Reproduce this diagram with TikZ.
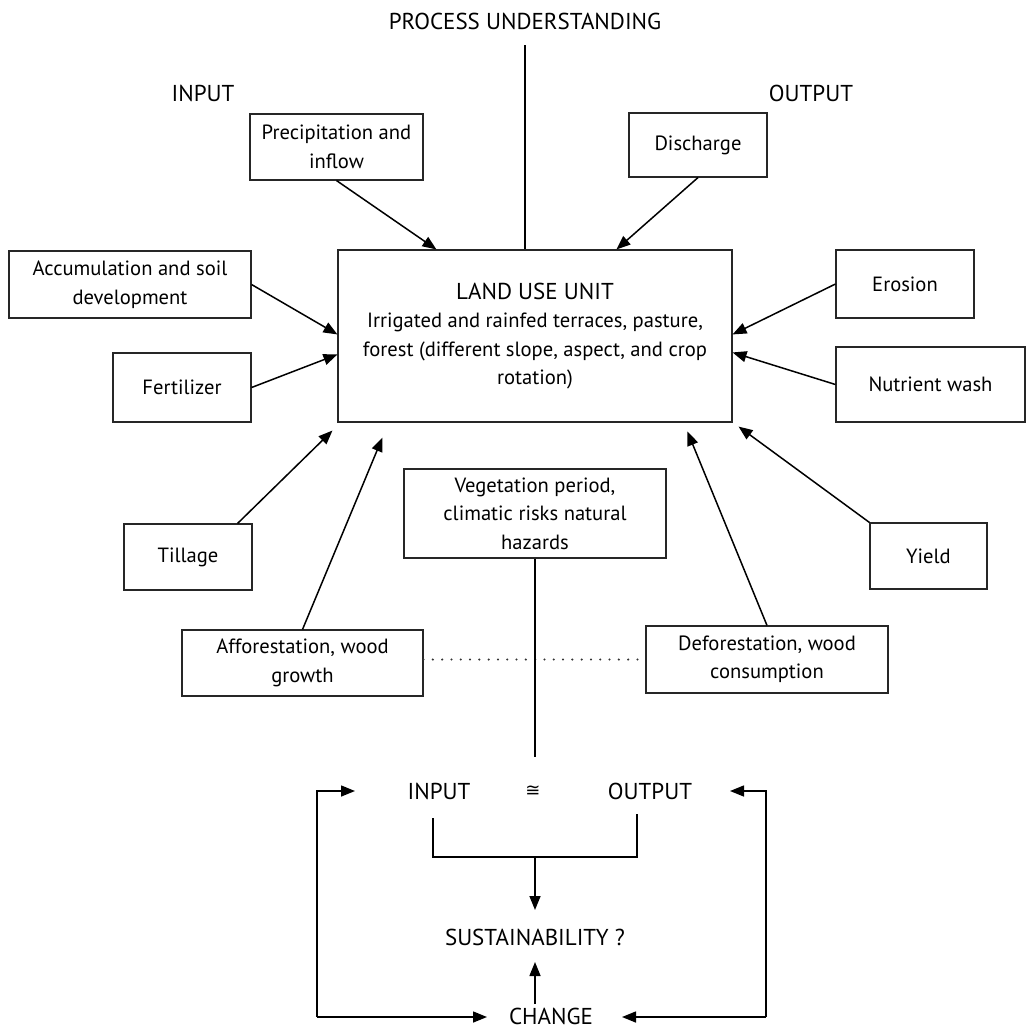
\documentclass[tikz,border=0pt]{standalone}
\usepackage{fontspec}
\setmainfont{PT Sans}
\newfontfamily\symfnt{DejaVu Sans}
\usetikzlibrary{arrows.meta,calc}
\tikzset{
  box/.style={draw=black!85,line width=1.1pt,inner sep=0pt,align=center,font=\fontsize{20.6}{28.5}\selectfont},
  lbl/.style={inner sep=0pt,font=\fontsize{23}{28.5}\selectfont},
  arr/.style={line width=1.5pt,-{Triangle[length=14pt,width=11pt]}},
  ln/.style={line width=1.3pt},
}
\begin{document}
\begin{tikzpicture}[x=1pt,y=-1pt]
\useasboundingbox[fill=white] (0,0) rectangle (1029,1029);
% labels
\node[lbl] (title) at (525,21) {PROCESS UNDERSTANDING};
\node[lbl] (inTop) at (203,93) {INPUT};
\node[lbl] (outTop) at (811,93) {OUTPUT};
% boxes
\node[box,minimum width=173pt,minimum height=66pt] (prec) at (336.5,147) {Precipitation and\\inflow};
\node[box,minimum width=138pt,minimum height=64pt] (disch) at (698,145) {Discharge};
\node[box,minimum width=394pt,minimum height=172pt] (land) at (535,336) {{\fontsize{23}{28.5}\selectfont LAND USE UNIT}\\Irrigated and rainfed terraces, pasture,\\forest (different slope, aspect, and crop\\rotation)};
\node[box,minimum width=242pt,minimum height=67pt] (accum) at (130,284.5) {Accumulation and soil\\development};
\node[box,minimum width=138pt,minimum height=69pt] (fert) at (182,387.5) {Fertilizer};
\node[box,minimum width=128pt,minimum height=66pt] (till) at (188,557) {Tillage};
\node[box,minimum width=241pt,minimum height=66pt] (affor) at (302.5,663) {Afforestation, wood\\growth};
\node[box,minimum width=262pt,minimum height=89pt] (veg) at (535,513.5) {Vegetation period,\\climatic risks natural\\hazards};
\node[box,minimum width=242pt,minimum height=67pt] (defor) at (767,659.5) {Deforestation, wood\\consumption};
\node[box,minimum width=117pt,minimum height=66pt] (yield) at (928.5,556) {Yield};
\node[box,minimum width=138pt,minimum height=68pt] (eros) at (905,284) {Erosion};
\node[box,minimum width=189pt,minimum height=75pt] (nutr) at (930.5,384.5) {Nutrient wash};
% title line
\coordinate (tl) at (525,45);
\draw[ln] (tl) -- ($(land.north)+(-10,0)$);
% arrows into land use unit
\draw[arr] (prec.south) -- ($(land.north west)+(99,0)$);
\draw[arr] (disch.south) -- ($(land.north west)+(279,0)$);
\draw[arr] (accum.east) -- ($(land.north west)+(0,85)$);
\draw[arr] (fert.east) -- ($(land.north west)+(0,105)$);
\draw[arr] ($(till.north east)+(-15,0)$) -- ($(land.south west)+(-5,8)$);
\draw[arr] (affor.north) -- ($(land.south west)+(45,15)$);
\draw[arr] (defor.north) -- ($(land.south west)+(350,9)$);
\draw[arr] (yield.north west) -- ($(land.south east)+(6,4)$);
\draw[arr] (eros.west) -- ($(land.north east)+(0,85)$);
\draw[arr] (nutr.west) -- ($(land.north east)+(0,103)$);
% dotted link
\draw[line width=2.3pt,line cap=round,dash pattern=on 0pt off 9.3pt,black!80] (affor.east |- defor.west) -- (defor.west);
% vegetation line
\coordinate (vend) at (535,757);
\draw[ln] (veg.south) -- (vend);
% bottom part
\node[lbl] (inB) at (439,791) {INPUT};
\node[lbl,font=\symfnt\fontsize{18}{20}\selectfont] (eqB) at (533,791) {≅};
\node[lbl] (outB) at (650,791) {OUTPUT};
\node[lbl] (sust) at (535,937) {SUSTAINABILITY ?};
\node[lbl,anchor=base] (change) at (551,1024.5) {CHANGE};
% bracket
\coordinate (bl) at (433,818);
\coordinate (blb) at (433,857);
\coordinate (brb) at (637,857);
\coordinate (br) at (637,814);
\coordinate (bm) at (535,857);
\coordinate (sd) at (535,910);
\coordinate (cu) at (535,1004);
\coordinate (su) at (535,962);
\draw[ln] (bl) -- (blb) -- (brb) -- (br);
\draw[arr] (bm) -- (sd);
\draw[arr] (cu) -- (su);
% loops
\coordinate (lt) at (317,791);
\coordinate (lb) at (317,1017);
\coordinate (rt) at (766,791);
\coordinate (rb) at (766,1017);
\coordinate (lti) at (355,791);
\coordinate (lbi) at (487,1017);
\coordinate (rti) at (730,791);
\coordinate (rbi) at (622,1017);
\draw[arr] (lb) -- (lt) -- (lti);
\draw[arr] (lb) -- (lbi);
\draw[arr] (rb) -- (rt) -- (rti);
\draw[arr] (rb) -- (rbi);
\end{tikzpicture}
\end{document}
